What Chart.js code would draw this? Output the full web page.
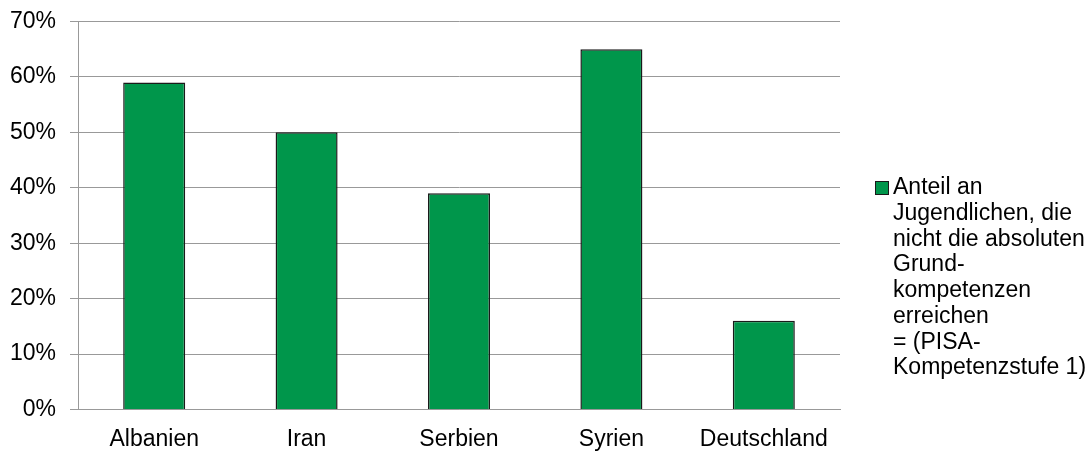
<!DOCTYPE html>
<html>
<head>
<meta charset="utf-8">
<script src="https://cdn.jsdelivr.net/npm/chart.js@4/dist/chart.umd.min.js"></script>
<style>
  body { margin:0; background:#fff; }
  #wrap { width:1090px; height:453px; position:relative; }
</style>
</head>
<body>
<div id="wrap"><canvas id="myChart"></canvas></div>
<script>
// values (percent)
var countries = ["Albanien", "Iran", "Serbien", "Syrien", "Deutschland"];
var shares = [59, 50, 39, 65, 16];
var yTicks = [0, 10, 20, 30, 40, 50, 60, 70];
var legendLines = ["Anteil an", "Jugendlichen, die", "nicht die absoluten", "Grund-", "kompetenzen", "erreichen", "= (PISA-", "Kompetenzstufe 1)"];

var barGreen = "#00964b";
var fontFam = "'Liberation Sans', Arial, sans-serif";

// legend on the right, wrapped like the original
var sideLegend = {
  id: "sideLegend",
  afterDraw: function(chart) {
    var ctx = chart.ctx;
    ctx.save();
    ctx.fillStyle = barGreen;
    ctx.fillRect(875.5, 181.5, 13, 13);
    ctx.strokeStyle = "#1a1a1a";
    ctx.lineWidth = 1;
    ctx.strokeRect(875.5, 181.5, 13, 13);
    ctx.fillStyle = "#000";
    ctx.font = "23px " + fontFam;
    ctx.textBaseline = "middle";
    ctx.textAlign = "left";
    for (var i = 0; i < legendLines.length; i++) {
      ctx.fillText(legendLines[i], 893, 188 + i * 25.7);
    }
    ctx.restore();
  }
};

var ctx = document.getElementById('myChart').getContext('2d');
var chart = new Chart(ctx, {
  type: 'bar',
  data: {
    labels: countries,
    datasets: [{
      label: legendLines.join(" "),
      data: shares,
      backgroundColor: barGreen,
      borderColor: "#1a1a1a",
      borderWidth: 1.5,
      barPercentage: 0.407,
      categoryPercentage: 1
    }]
  },
  options: {
    responsive: true,
    maintainAspectRatio: false,
    animation: false,
    layout: { padding: { left: 0, right: 250, top: 21.5, bottom: 0 } },
    plugins: {
      legend: { display: false },
      tooltip: { enabled: false }
    },
    scales: {
      x: {
        grid: { display: false },
        border: { display: true, color: "#999" },
        ticks: { color: "#000", font: { size: 23, family: fontFam }, padding: 8 },
        afterFit: function(s) { s.height = 43.5; }
      },
      y: {
        min: 0,
        max: 70,
        afterBuildTicks: function(s) { s.ticks = yTicks.map(function(v) { return { value: v }; }); },
        grid: { color: "#999", lineWidth: 1, tickLength: 8 },
        border: { color: "#999" },
        ticks: {
          color: "#000",
          font: { size: 23, family: fontFam },
          padding: 14,
          callback: function(v) { return v + "%"; }
        },
        afterFit: function(s) { s.width = 78; s.paddingTop = 0; s.paddingBottom = 0; }
      }
    }
  },
  plugins: [sideLegend]
});
</script>
</body>
</html>
